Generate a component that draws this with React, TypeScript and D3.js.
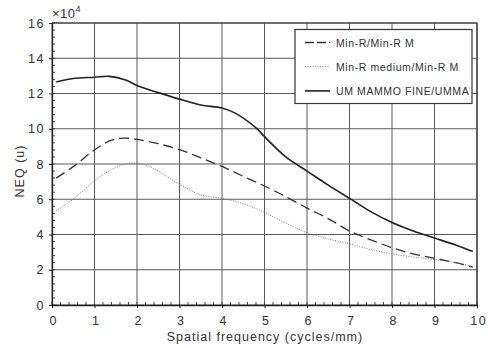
import * as d3 from 'd3';
import React, { useEffect, useRef } from 'react';

interface Pt {
  f: number;
  v: number;
}

// NEQ values in units of 1e4
const umFreq = [0.1, 0.5, 1, 1.35, 1.75, 2, 2.5, 3, 3.5, 4, 4.3, 4.8, 5, 5.5, 6, 6.5, 7, 7.5, 8, 8.5, 9, 9.5, 9.9];
const umNeq = [12.65, 12.85, 12.92, 12.97, 12.75, 12.45, 12.05, 11.68, 11.35, 11.18, 10.9, 10.05, 9.55, 8.4, 7.6, 6.8, 6.05, 5.3, 4.68, 4.2, 3.8, 3.4, 3.03];

const minRFreq = [0.1, 0.5, 1, 1.4, 1.7, 2, 2.5, 3, 3.5, 4, 4.5, 5, 5.5, 6, 6.5, 7, 7.5, 8, 8.5, 9, 9.5, 9.9];
const minRNeq = [7.2, 7.85, 8.8, 9.35, 9.47, 9.4, 9.15, 8.82, 8.35, 7.86, 7.3, 6.75, 6.15, 5.5, 4.9, 4.2, 3.7, 3.25, 2.9, 2.65, 2.4, 2.15];

const mediumFreq = [0.1, 0.5, 1, 1.5, 1.8, 2.1, 2.5, 3, 3.5, 4, 4.5, 5, 5.5, 6, 6.5, 7, 7.5, 8, 8.5, 9, 9.5, 9.9];
const mediumNeq = [5.35, 6.0, 7.05, 7.8, 8.03, 8.02, 7.6, 6.85, 6.25, 6.05, 5.75, 5.25, 4.65, 4.1, 3.75, 3.47, 3.15, 2.9, 2.72, 2.58, 2.4, 2.18];

const seriesNames = ['Min-R/Min-R M', 'Min-R medium/Min-R M', 'UM MAMMO FINE/UMMA'];
const xTicks = [0, 1, 2, 3, 4, 5, 6, 7, 8, 9, 10];
const yTicks = [0, 2, 4, 6, 8, 10, 12, 14, 16];

const width = 488;
const height = 348;
const margin = { top: 23, right: 11, bottom: 43, left: 52 };
const font = '"Liberation Sans", Arial, sans-serif';

const toPts = (f: number[], v: number[]): Pt[] => f.map((x, i) => ({ f: x, v: v[i] }));

const App: React.FC = () => {
  const svgRef = useRef<SVGSVGElement>(null);
  useEffect(() => {
    if (!svgRef.current) return;
    const svg = d3.select(svgRef.current);
    svg.selectAll('*').remove();

    const x = d3.scaleLinear().domain([0, 10]).range([margin.left, width - margin.right]);
    const y = d3.scaleLinear().domain([0, 16]).range([height - margin.bottom, margin.top]);

    // grid
    const grid = svg.append('g').attr('stroke', '#5a5a5a').attr('stroke-width', 1);
    grid
      .selectAll('.vg')
      .data(xTicks)
      .enter()
      .append('line')
      .attr('x1', (d) => x(d))
      .attr('x2', (d) => x(d))
      .attr('y1', y(0))
      .attr('y2', y(16));
    grid
      .selectAll('.hg')
      .data(yTicks)
      .enter()
      .append('line')
      .attr('x1', x(0))
      .attr('x2', x(10))
      .attr('y1', (d) => y(d))
      .attr('y2', (d) => y(d));

    // minor ticks (inward)
    const minorX = d3.range(0, 10.01, 0.2);
    const minorY = d3.range(0, 16.01, 0.4);
    svg
      .append('g')
      .attr('stroke', '#444')
      .selectAll('line')
      .data(minorX)
      .enter()
      .append('line')
      .attr('x1', (d) => x(d))
      .attr('x2', (d) => x(d))
      .attr('y1', y(0))
      .attr('y2', y(0) - 3);
    svg
      .append('g')
      .attr('stroke', '#444')
      .selectAll('line')
      .data(minorY)
      .enter()
      .append('line')
      .attr('x1', x(0))
      .attr('x2', x(0) + 3)
      .attr('y1', (d) => y(d))
      .attr('y2', (d) => y(d));

    // axes
    const xAxis = svg
      .append('g')
      .attr('transform', `translate(0,${y(0)})`)
      .call(d3.axisBottom(x).tickValues(xTicks).tickSize(3).tickPadding(8).tickSizeOuter(0));
    const yAxis = svg
      .append('g')
      .attr('transform', `translate(${x(0)},0)`)
      .call(d3.axisLeft(y).tickValues(yTicks).tickSize(3).tickPadding(4).tickSizeOuter(0));
    [xAxis, yAxis].forEach((g) => {
      g.select('.domain').attr('stroke', '#222').attr('stroke-width', 1.3);
      g.selectAll('.tick line').attr('stroke', '#222');
      g.selectAll('text')
        .attr('font-family', font)
        .attr('font-size', 12.5)
        .attr('letter-spacing', 1.5)
        .attr('fill', '#333');
    });
    xAxis.selectAll('text').attr('dx', '0.1em');

    // top/right frame
    svg
      .append('path')
      .attr('d', `M${x(0)},${y(16)}H${x(10)}V${y(0)}`)
      .attr('fill', 'none')
      .attr('stroke', '#333')
      .attr('stroke-width', 1.2);

    // lines
    const line = d3
      .line<Pt>()
      .x((d) => x(d.f))
      .y((d) => y(d.v))
      .curve(d3.curveCatmullRom.alpha(0.5));
    const styles = [
      { data: toPts(minRFreq, minRNeq), dash: '10,5', color: '#333', w: 1.3 },
      { data: toPts(mediumFreq, mediumNeq), dash: '1,1.5', color: '#777', w: 1 },
      { data: toPts(umFreq, umNeq), dash: null, color: '#222', w: 1.6 },
    ];
    styles.forEach((s) => {
      svg
        .append('path')
        .datum(s.data)
        .attr('d', line)
        .attr('fill', 'none')
        .attr('stroke', s.color)
        .attr('stroke-width', s.w)
        .attr('stroke-dasharray', s.dash);
    });

    // legend
    const lg = svg.append('g');
    lg.append('rect')
      .attr('x', 295)
      .attr('y', 29.5)
      .attr('width', 177)
      .attr('height', 74)
      .attr('fill', '#fff')
      .attr('stroke', '#333')
      .attr('stroke-width', 1.2);
    styles.forEach((s, i) => {
      const ly = 42.5 + i * 24.2;
      lg.append('line')
        .attr('x1', 305)
        .attr('x2', 330)
        .attr('y1', ly)
        .attr('y2', ly)
        .attr('stroke', s.color)
        .attr('stroke-width', s.w)
        .attr('stroke-dasharray', s.dash ? (i === 0 ? '9,3' : s.dash) : null);
      lg.append('text')
        .attr('x', 336)
        .attr('y', ly + 4)
        .attr('font-family', font)
        .attr('font-size', 10.5)
        .attr('letter-spacing', 0.6)
        .attr('fill', '#333')
        .text(seriesNames[i]);
    });

    // titles
    svg
      .append('text')
      .attr('x', 265)
      .attr('y', 341)
      .attr('text-anchor', 'middle')
      .attr('font-family', font)
      .attr('font-size', 12.5)
      .attr('letter-spacing', 1)
      .attr('fill', '#333')
      .text('Spatial frequency (cycles/mm)');
    svg
      .append('text')
      .attr('transform', 'translate(24,171) rotate(-90)')
      .attr('text-anchor', 'middle')
      .attr('font-family', font)
      .attr('font-size', 12.5)
      .attr('letter-spacing', 1)
      .attr('fill', '#333')
      .text('NEQ (u)');
    const exp = svg
      .append('text')
      .attr('x', 52)
      .attr('y', 18)
      .attr('font-family', font)
      .attr('font-size', 13)
      .attr('letter-spacing', 0.5)
      .attr('fill', '#333');
    exp.append('tspan').text('×10');
    exp.append('tspan').attr('font-size', 9).attr('dy', -6).text('4');
  }, []);
  return (
    <svg
      ref={svgRef}
      width={width}
      height={height}
      style={{ position: 'absolute', left: 0, top: 0, background: '#fff' }}
    />
  );
};

export default App;
